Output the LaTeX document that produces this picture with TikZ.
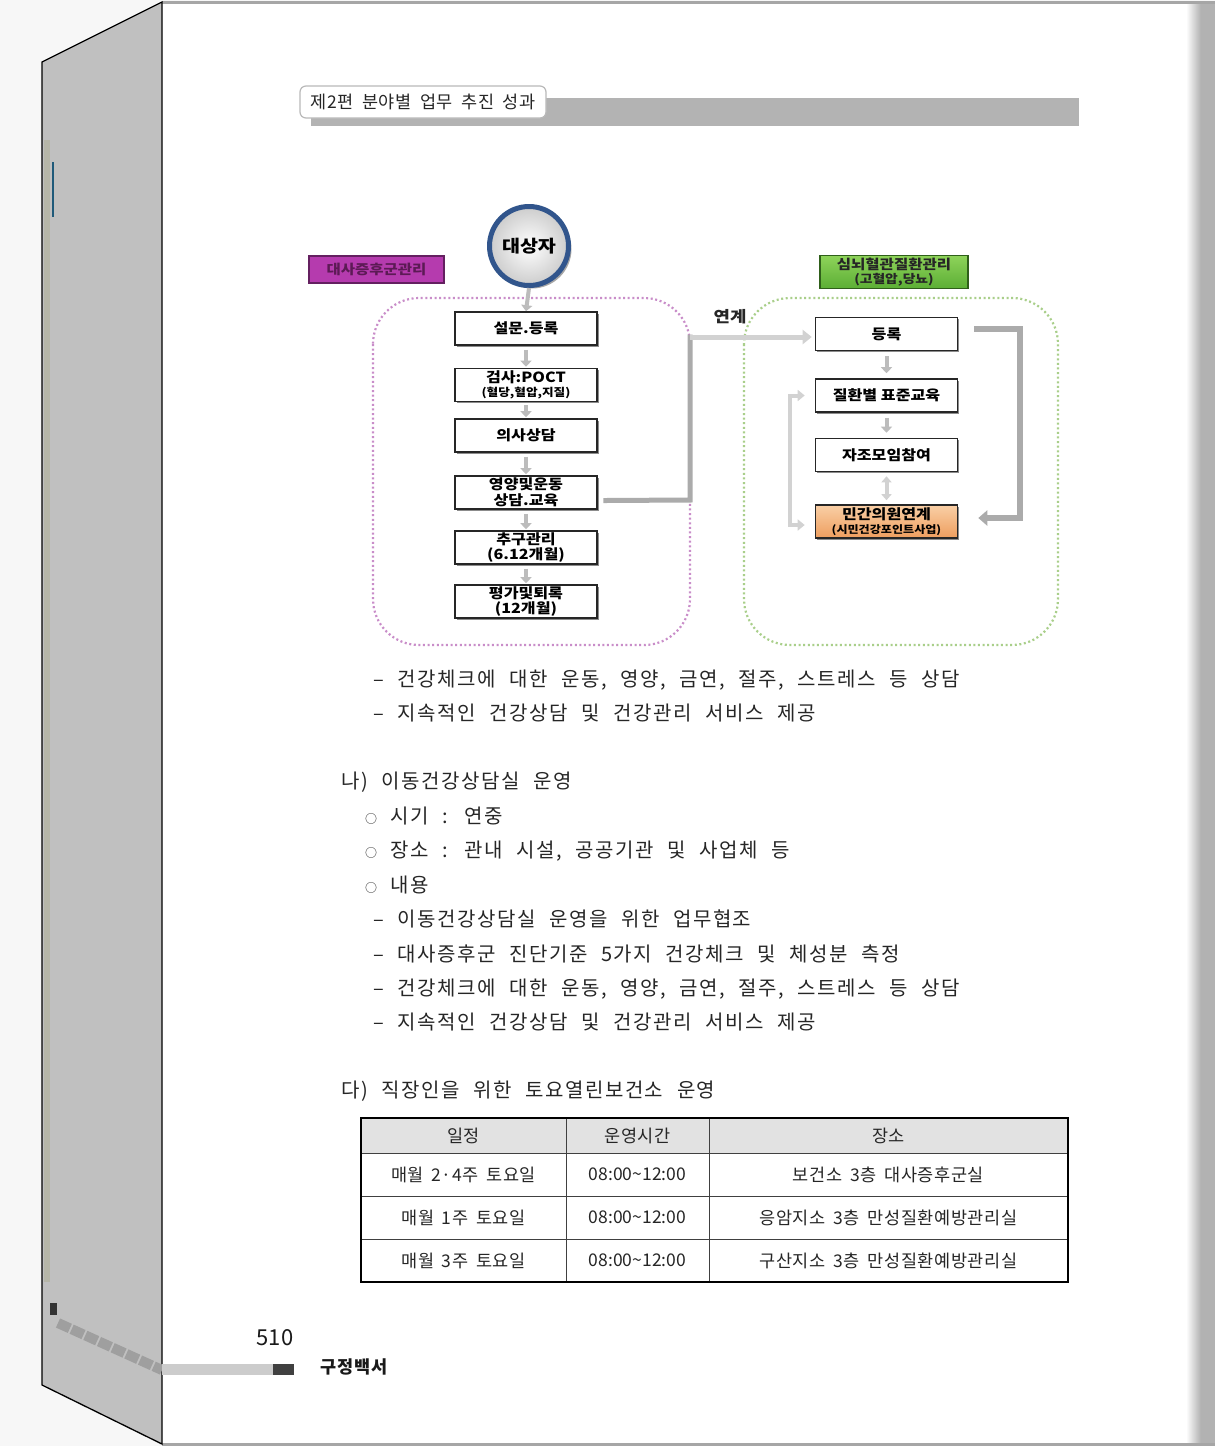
\documentclass[tikz,border=0pt]{standalone}
\usepackage{fontspec}
\setmainfont{Noto Sans CJK KR}
\newfontfamily\kr{Noto Sans CJK KR}
\newfontfamily\krw{Noto Sans CJK KR}[FakeStretch=1.15]
\newfontfamily\krsp{Noto Sans CJK KR}[LetterSpace=4,WordSpace=1.8]
\newfontfamily\bodyfont{Noto Sans CJK KR}[WordSpace=2.3,LetterSpace=7.5]
\newfontfamily\tblfont{Noto Sans CJK KR}[WordSpace=1.7,LetterSpace=3.5]
\newfontfamily\numfont{Noto Sans CJK KR}
\usetikzlibrary{arrows.meta,shadows,calc}
\definecolor{pagebg}{HTML}{F7F7F7}
\definecolor{spinegray}{HTML}{C0C0C0}
\definecolor{hdrbar}{HTML}{B3B3B3}
\definecolor{magbox}{HTML}{B53BAE}
\definecolor{magtext}{HTML}{5C1A55}
\definecolor{grntop}{HTML}{8ED35A}
\definecolor{grnbot}{HTML}{5CAE35}
\definecolor{grnline}{HTML}{2F5F1A}
\definecolor{orgtop}{HTML}{F9CFA6}
\definecolor{orgbot}{HTML}{EE9E5E}
\definecolor{ringblue}{HTML}{31558C}
\definecolor{pinkdot}{HTML}{C98DC9}
\definecolor{greendot}{HTML}{A9CF8A}
\definecolor{connA}{HTML}{ABABAB}
\definecolor{connB}{HTML}{D2D2D2}
\definecolor{tblhead}{HTML}{E2E2E2}
\definecolor{bluemark}{HTML}{1F5A7A}
\definecolor{beige}{HTML}{B6B6A8}
\tikzset{
  flowbox/.style={draw=black!85, line width=1.6pt, fill=white,
    minimum width=142pt, minimum height=33pt, inner sep=0pt, align=center,
    font=\krw\bfseries\fontsize{14}{15.5}\selectfont,
    drop shadow={shadow xshift=1.8pt, shadow yshift=-1.8pt, fill=black!45, opacity=1}},
  flowarrow/.style={line width=4pt, draw=connA!80, -{Triangle[length=6pt,width=11pt]}},
  bigA/.style={line width=5pt, draw=connA},
  bigB/.style={line width=5pt, draw=connB},
  lightconn/.style={line width=4pt, draw=connB},
  bodyline/.style={anchor=west, inner sep=0pt, text=black!85, font=\bodyfont\fontsize{20}{24}\selectfont},
  cell/.style={inner sep=0pt, text=black!85, font=\tblfont\fontsize{17.5}{20}\selectfont}
}
\begin{document}
\begin{tikzpicture}[x=1pt,y=-1pt]
\useasboundingbox (0,0) rectangle (1215,1446);
% background
\fill[pagebg] (0,0) rectangle (1215,1446);
% page
\fill[white] (162,3) rectangle (1215,1443);
\shade[left color=white, right color=gray!62] (1186,3) rectangle (1201,1443);
\fill[gray!60] (1201,3) rectangle (1215,1443);
\draw[gray!70, line width=3pt] (162,2) -- (1215,2);
\draw[gray!70, line width=3pt] (162,1444) -- (1215,1444);
% spine
\fill[spinegray] (42,62) -- (162,2) -- (162,1444) -- (42,1385) -- cycle;
\fill[beige] (44,140) rectangle (50,1282);
\draw[black, line width=1.3pt] (42,62) -- (162,2) -- (162,1444) -- (42,1385) -- cycle;
\draw[bluemark, line width=2.6pt] (53,162) -- (53,217);
\fill[black!80] (50,1303) rectangle (57,1315);
\draw[gray!75, line width=10pt, dash pattern=on 13pt off 2pt] (58,1323) -- (162,1370);
\fill[gray!40] (162,1364) rectangle (273,1375);
\fill[black!75] (273,1364) rectangle (294,1375);
% header
\fill[hdrbar] (311,98) rectangle (1079,126);
\node[draw=gray!55, line width=1.2pt, fill=white, rounded corners=6pt,
  minimum width=246pt, minimum height=32pt, inner sep=0pt,
  font=\krsp\fontsize{17.5}{18}\selectfont, text=black!85] (hdr) at (423,102) {제2편 분야별 업무 추진 성과};
% dotted groups
\draw[pinkdot, line width=2.2pt, dash pattern=on 2pt off 2.6pt, rounded corners=46pt] (373,298) rectangle (690,645);
\draw[greendot, line width=2.2pt, dash pattern=on 2pt off 2.6pt, rounded corners=46pt] (744,298) rectangle (1058,645);
% labels
\node[fill=magbox, draw=magbox!55!black, line width=1.5pt, minimum width=135pt, minimum height=27pt,
  inner sep=0pt, text=magtext, font=\krw\bfseries\fontsize{13.5}{14}\selectfont] (mb) at (376.5,269.5) {대사증후군관리};
\node[top color=grntop, bottom color=grnbot, draw=grnline, line width=1.5pt, minimum width=148pt, minimum height=33pt,
  inner sep=0pt, align=center, text=black!85, font=\krw\bfseries\fontsize{13.5}{14.5}\selectfont] (gb) at (894,272) {심뇌혈관질환관리\\{\fontsize{12}{13}\selectfont (고혈압,당뇨)}};
% target circle
\node[circle, minimum size=79pt, draw=ringblue, line width=5pt, inner color=white, outer color=gray!40,
  font=\krw\bfseries\fontsize{17}{18}\selectfont,
  drop shadow={shadow xshift=3pt, shadow yshift=-3pt, fill=black!35, opacity=1}] (tgt) at (529,246) {대상자};
% left flow
\node[flowbox] (sm) at (526,328.5) {설문.등록};
\node[flowbox] (gs) at (526,385) {검사:POCT\\[-2pt]{\fontsize{11}{12}\selectfont (혈당,혈압,지질)}};
\node[flowbox] (ui) at (526,435.5) {의사상담};
\node[flowbox] (yy) at (526,492.5) {영양및운동\\상담.교육};
\node[flowbox] (cg) at (526,547.5) {추구관리\\(6.12개월)};
\node[flowbox] (pg) at (526,601.5) {평가및퇴록\\(12개월)};
\draw[flowarrow] (tgt.south) -- (sm.north);
\draw[flowarrow] ($(sm.south)+(0,4)$) -- ($(gs.north)+(0,-1)$);
\draw[flowarrow] ($(gs.south)+(0,3)$) -- ($(ui.north)+(0,-1)$);
\draw[flowarrow] ($(ui.south)+(0,4)$) -- ($(yy.north)+(0,-1)$);
\draw[flowarrow] ($(yy.south)+(0,4)$) -- ($(cg.north)+(0,-1)$);
\draw[flowarrow] ($(cg.south)+(0,4)$) -- ($(pg.north)+(0,-1)$);
% right flow
\node[flowbox] (reg) at (886.5,334) {등록};
\node[flowbox] (dz) at (886.5,395.5) {질환별 표준교육};
\node[flowbox] (jj) at (886.5,455) {자조모임참여};
\node[flowbox, top color=orgtop, bottom color=orgbot] (mg) at (886.5,521.5) {민간의원연계\\[-2pt]{\fontsize{10.5}{12}\selectfont (시민건강포인트사업)}};
\draw[flowarrow] ($(reg.south)+(0,5)$) -- ($(dz.north)+(0,-5)$);
\draw[flowarrow] ($(dz.south)+(0,5)$) -- ($(jj.north)+(0,-5)$);
\draw[lightconn, {Triangle[length=6pt,width=10pt]}-{Triangle[length=6pt,width=10pt]}] ($(jj.south)+(0,4)$) -- ($(mg.north)+(0,-4)$);
% link connector
\coordinate (k1) at (690,500);
\coordinate (k2) at (690,337);
\draw[bigA, line cap=rect] ($(yy.east)+(8,8)$) -- (k1) -- (k2);
\draw[bigB, -{Triangle[length=9pt,width=14pt]}] (k2) -- ($(reg.west |- k2)+(-3,0)$);
\node[font=\krw\bfseries\fontsize{15.5}{17}\selectfont, text=black!85] (lk) at (730,317) {연계};
% right bracket
\coordinate (r1) at (1020,329);
\coordinate (r2) at (1020,518);
\draw[bigA, line width=6pt, -{Triangle[length=9pt,width=15pt]}] ($(reg.east)+(16,-5)$) -- (r1) -- (r2) -- ($(mg.east |- r2)+(20,0)$);
% left bracket
\coordinate (l1) at (790,395.5);
\coordinate (l2) at (790,525);
\draw[lightconn, {Triangle[length=7pt,width=11pt]}-{Triangle[length=7pt,width=11pt]}] ($(dz.west)+(-10,0)$) -- (l1) -- (l2) -- ($(mg.west |- l2)+(-10,0)$);
% body text
\node[bodyline] (t1) at (373,680) {– 건강체크에 대한 운동, 영양, 금연, 절주, 스트레스 등 상담};
\node[bodyline] (t2) at (373,713) {– 지속적인 건강상담 및 건강관리 서비스 제공};
\node[bodyline] (t3) at (341,782) {나) 이동건강상담실 운영};
\node[bodyline] (t4) at (365,816) {{\fontsize{12}{12}\selectfont ○} 시기 : 연중};
\node[bodyline] (t5) at (365,851) {{\fontsize{12}{12}\selectfont ○} 장소 : 관내 시설, 공공기관 및 사업체 등};
\node[bodyline] (t6) at (365,885) {{\fontsize{12}{12}\selectfont ○} 내용};
\node[bodyline] (t7) at (373,919) {– 이동건강상담실 운영을 위한 업무협조};
\node[bodyline] (t8) at (373,954) {– 대사증후군 진단기준 5가지 건강체크 및 체성분 측정};
\node[bodyline] (t9) at (373,989) {– 건강체크에 대한 운동, 영양, 금연, 절주, 스트레스 등 상담};
\node[bodyline] (t10) at (373,1022) {– 지속적인 건강상담 및 건강관리 서비스 제공};
\node[bodyline] (t11) at (341,1091) {다) 직장인을 위한 토요열린보건소 운영};
% table
\fill[tblhead] (361,1118) rectangle (1068,1153);
\draw[black!75, line width=0.9pt] (361,1153) -- (1068,1153) (361,1196) -- (1068,1196) (361,1239) -- (1068,1239)
  (566,1118) -- (566,1282) (709,1118) -- (709,1282);
\draw[black, line width=2pt] (361,1118) rectangle (1068,1282);
\node[cell] (h1) at (463.5,1135.5) {일정};
\node[cell] (h2) at (637.5,1135.5) {운영시간};
\node[cell] (h3) at (888.5,1135.5) {장소};
\node[cell] (a1) at (463.5,1174.5) {매월 2·4주 토요일};
\node[cell, font=\numfont\fontsize{17.5}{20}\selectfont] (a2) at (637.5,1174.5) {08:00\textasciitilde 12:00};
\node[cell] (a3) at (888.5,1174.5) {보건소 3층 대사증후군실};
\node[cell] (b1) at (463.5,1217.5) {매월 1주 토요일};
\node[cell, font=\numfont\fontsize{17.5}{20}\selectfont] (b2) at (637.5,1217.5) {08:00\textasciitilde 12:00};
\node[cell] (b3) at (888.5,1217.5) {응암지소 3층 만성질환예방관리실};
\node[cell] (c1) at (463.5,1260.5) {매월 3주 토요일};
\node[cell, font=\numfont\fontsize{17.5}{20}\selectfont] (c2) at (637.5,1260.5) {08:00\textasciitilde 12:00};
\node[cell] (c3) at (888.5,1260.5) {구산지소 3층 만성질환예방관리실};
% footer
\node[inner sep=0pt, font=\kr\fontsize{22}{24}\selectfont, text=black!90] (pn) at (275,1338) {510};
\node[inner sep=0pt, font=\krsp\bfseries\fontsize{17.5}{18}\selectfont, text=black!90] (bk) at (354,1367) {구정백서};
\end{tikzpicture}
\end{document}
